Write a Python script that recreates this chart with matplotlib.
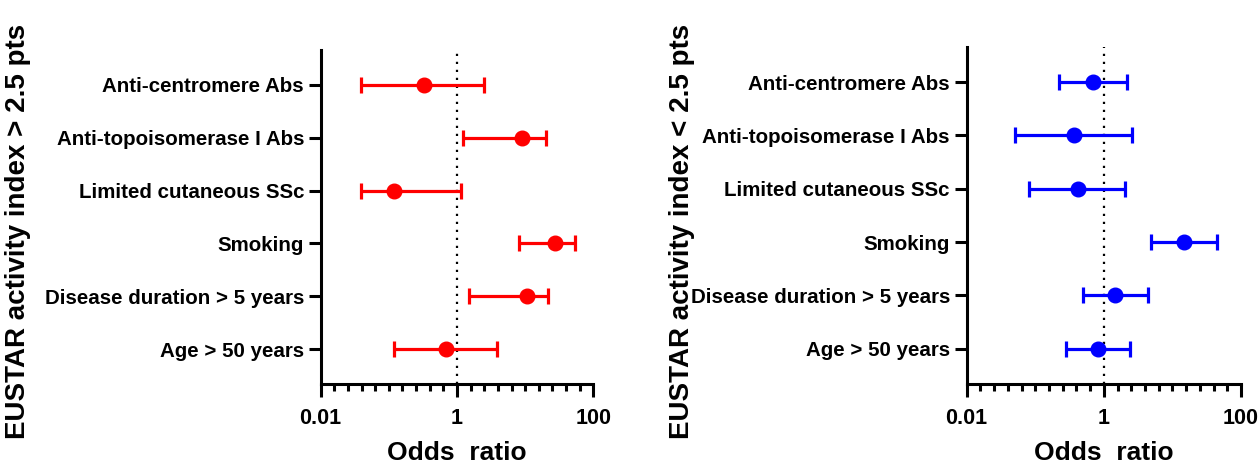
import numpy as np
import matplotlib
matplotlib.use("Agg")
import matplotlib.pyplot as plt
from matplotlib.ticker import FixedLocator, NullFormatter

plt.rcParams['font.family'] = ['Liberation Sans', 'DejaVu Sans']
plt.rcParams['font.weight'] = 'bold'

# categories, top to bottom
categories = ["Anti-centromere Abs", "Anti-topoisomerase I Abs", "Limited cutaneous SSc",
              "Smoking", "Disease duration > 5 years", "Age > 50 years"]

# left panel: EUSTAR activity index > 2.5 pts
or_high = [0.33, 9.0, 0.12, 27.0, 10.8, 0.68]
lo_high = [0.039, 1.22, 0.039, 8.0, 1.5, 0.118]
hi_high = [2.5, 20.5, 1.16, 54.0, 21.5, 3.9]

# right panel: EUSTAR activity index < 2.5 pts
or_low = [0.70, 0.37, 0.42, 14.7, 1.46, 0.83]
lo_low = [0.22, 0.051, 0.080, 4.9, 0.49, 0.28]
hi_low = [2.2, 2.6, 2.07, 44.0, 4.4, 2.42]

ylabels = ["EUSTAR activity index > 2.5 pts", "EUSTAR activity index < 2.5 pts"]
xticks = [0.01, 1, 100]
xticklabels = ["0.01", "1", "100"]


def forest(ax, ors, los, his, color):
    y = np.arange(len(categories))
    ors = np.array(ors)
    err = [ors - np.array(los), np.array(his) - ors]
    ax.errorbar(ors, y, xerr=err, fmt='o', color=color, ecolor=color, elinewidth=2.3,
                capsize=5.5, capthick=2.3, markersize=10.5, zorder=3)
    ax.axvline(1, color='black', linestyle=(0, (1, 2.6)), linewidth=1.6, zorder=1)
    ax.set_xscale('log')
    ax.set_xlim(0.01, 100)
    ax.set_ylim(len(categories) - 1 + 0.66, -0.66)
    ax.set_yticks(y)
    ax.set_yticklabels(categories, fontsize=14.8, fontweight='bold')
    ax.xaxis.set_major_locator(FixedLocator(xticks))
    ax.set_xticklabels(xticklabels, fontsize=15.5, fontweight='bold')
    ax.xaxis.set_minor_locator(FixedLocator(10 ** np.arange(-2, 2.01, 0.2)))
    ax.xaxis.set_minor_formatter(NullFormatter())
    ax.set_xlabel("Odds  ratio", fontsize=19, fontweight='bold', labelpad=9)
    for s in ['top', 'right']:
        ax.spines[s].set_visible(False)
    for s in ['left', 'bottom']:
        ax.spines[s].set_linewidth(2.2)
    ax.tick_params(axis='y', length=9, width=2.2, pad=3)
    ax.tick_params(axis='x', which='major', length=9, width=2.2, pad=8)
    ax.tick_params(axis='x', which='minor', length=5, width=2.2)


fig = plt.figure(figsize=(12.59, 4.68), dpi=100)
ax1 = fig.add_axes([0.2547, 0.1795, 0.2166, 0.7135])
ax2 = fig.add_axes([0.7678, 0.1795, 0.2179, 0.7205])

forest(ax1, or_high, lo_high, hi_high, '#ff0000')
forest(ax2, or_low, lo_low, hi_low, '#0000ff')

fig.text(0.0145, 0.505, ylabels[0], rotation=90, ha='center', va='center',
         fontsize=20, fontweight='bold')
fig.text(0.5415, 0.505, ylabels[1], rotation=90, ha='center', va='center',
         fontsize=20, fontweight='bold')

fig.savefig("out.png", dpi=100)
